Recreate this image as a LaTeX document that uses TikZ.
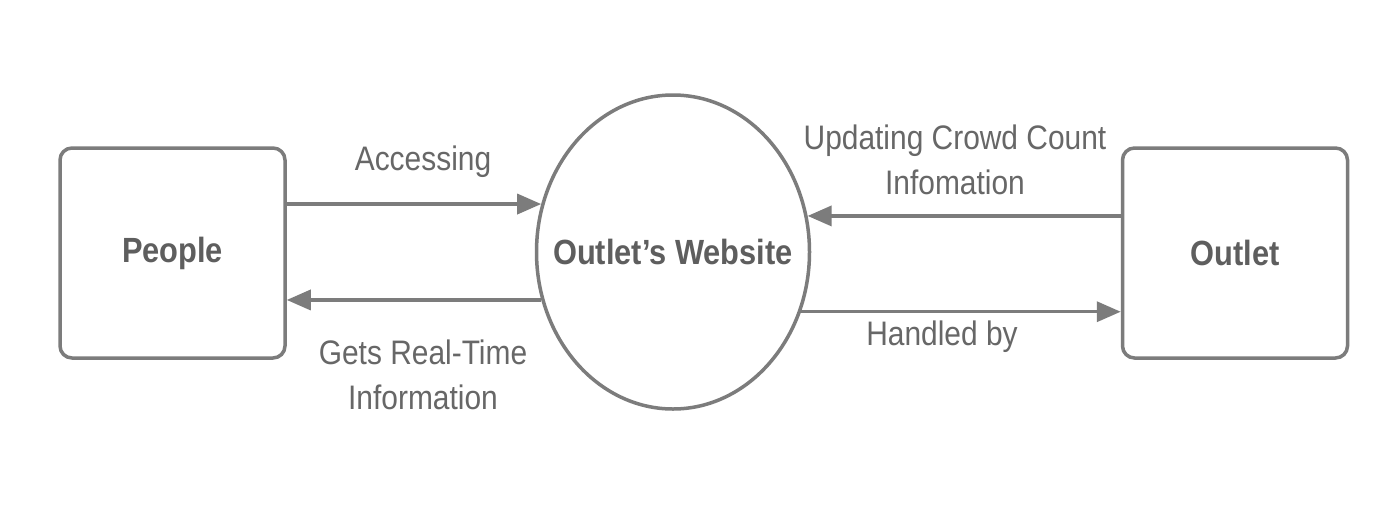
\documentclass[tikz,border=0pt]{standalone}
\usepackage{fontspec}
\setmainfont{Liberation Sans}[FakeStretch=0.88]
\usetikzlibrary{shapes.geometric,arrows.meta}
\definecolor{linegray}{HTML}{7C7C7C}
\definecolor{textgray}{HTML}{676767}
\definecolor{boldgray}{HTML}{5E5E5E}
\tikzset{
  entity/.style={draw=linegray, line width=3.5pt, rounded corners=12pt, minimum width=225pt, minimum height=210pt, inner sep=0pt, text=boldgray, font=\fontsize{35}{42}\selectfont\bfseries},
  process/.style={ellipse, draw=linegray, line width=3.5pt, minimum width=273pt, minimum height=314pt, inner sep=0pt},
  ptext/.style={inner sep=0pt, text=boldgray, font=\fontsize{35}{42}\selectfont\bfseries},
  flow/.style={draw=linegray, line width=3.5pt, -{Triangle[length=24pt,width=20pt]}},
  lbl/.style={text=textgray, align=center, inner sep=0pt, font=\fontsize{34}{45}\selectfont}
}
\begin{document}
\begin{tikzpicture}[x=1pt,y=-1pt]
\useasboundingbox[fill=white] (0,0) rectangle (1400,528);
\node[entity] (people) at (172.5,253) {People};
\node[entity] (outlet) at (1235,253) {Outlet};
\node[process] (site) at (673,252) {};
\node[ptext] (sitetext) at (site.center) {Outlet's Website};
\draw[flow] (people.east |- site.160.2) -- (site.160.2);
\draw[flow] (site.200.2) -- (people.east |- site.200.2);
\draw[flow] (outlet.west |- site.15.5) -- (site.15.5);
\draw[flow] (site.335.5) -- (outlet.west |- site.335.5);
\node[lbl] (l1) at (423,162) {Accessing};
\node[lbl] (l2) at (423,375) {Gets Real-Time\\Information};
\node[lbl] (l3) at (955,160) {Updating Crowd Count\\Infomation};
\node[lbl] (l4) at (942,337) {Handled by};
\end{tikzpicture}
\end{document}
